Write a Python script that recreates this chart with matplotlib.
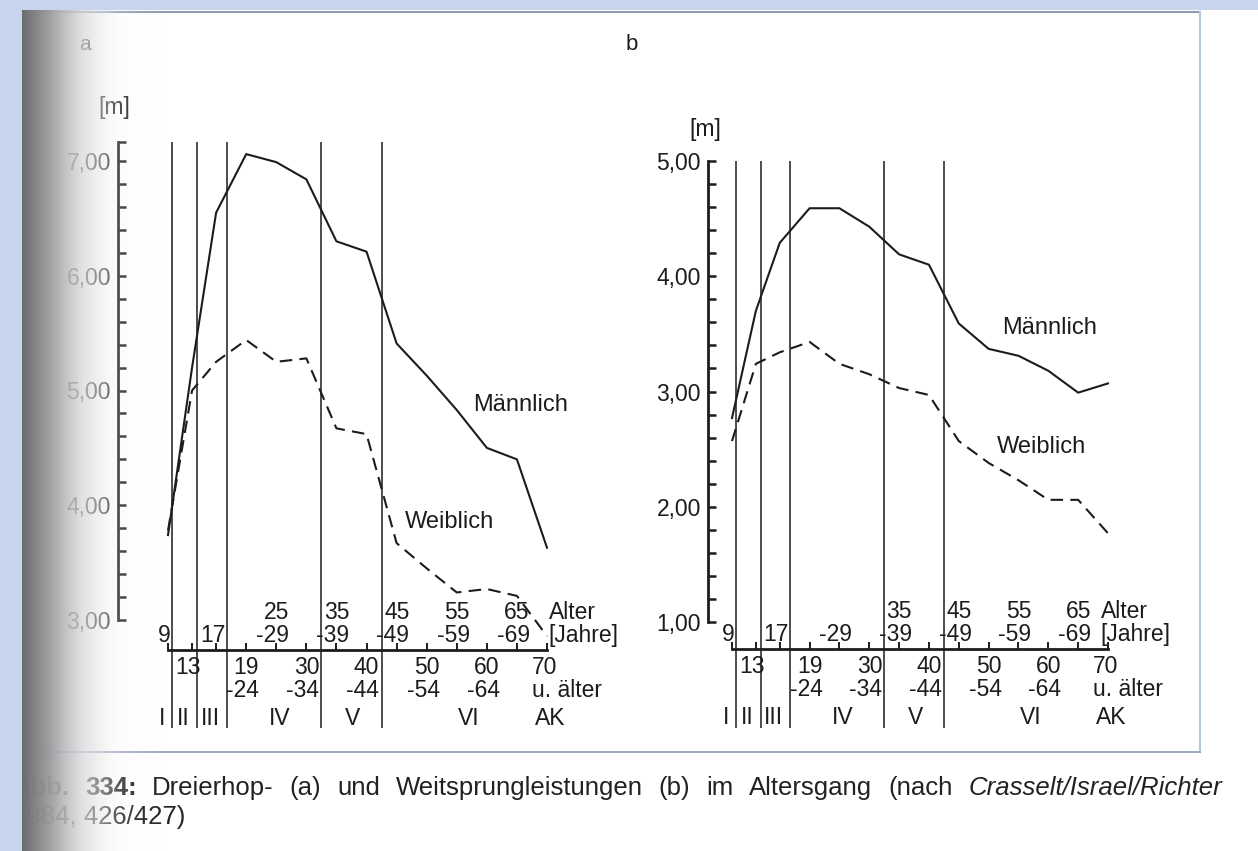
import numpy as np
import matplotlib
matplotlib.use("Agg")
import matplotlib.pyplot as plt
from matplotlib.ticker import FixedLocator

plt.rcParams['font.family'] = ['Liberation Sans', 'DejaVu Sans']

# age groups, drawn at their mid age ("70 u. älter" sits at 72)
ages = [9, 13, 17, 22, 27, 32, 37, 42, 47, 52, 57, 62, 67, 72]

# (a) Dreierhop [m]
dreier_m = [3.74, 5.20, 6.55, 7.06, 6.99, 6.84, 6.30, 6.21, 5.41, 5.13, 4.83, 4.50, 4.40, 3.63]
dreier_w = [3.78, 5.00, 5.25, 5.44, 5.25, 5.28, 4.67, 4.62, 3.67, 3.45, 3.24, 3.27, 3.21, 2.86]
# (b) Weitsprung [m]
weit_m = [2.77, 3.70, 4.29, 4.59, 4.59, 4.43, 4.19, 4.10, 3.59, 3.37, 3.31, 3.18, 2.99, 3.07]
weit_w = [2.57, 3.24, 3.34, 3.43, 3.24, 3.15, 3.03, 2.97, 2.57, 2.38, 2.23, 2.06, 2.06, 1.77]

top_ages = [9, 17, 27, 37, 47, 57, 67]
top_labels_a = ['9', '17', '25\n-29', '35\n-39', '45\n-49', '55\n-59', '65\n-69']
top_labels_b = ['9', '17', '-29', '35\n-39', '45\n-49', '55\n-59', '65\n-69']
bottom_ages = [13, 22, 32, 42, 52, 62]
bottom_labels = ['13', '19\n-24', '30\n-34', '40\n-44', '50\n-54', '60\n-64']

classes = ['I', 'II', 'III', 'IV', 'V', 'VI', 'AK']
class_ages = [8, 11.5, 16, 27.5, 39.7, 59, 72.5]
class_bounds = [9.6, 13.9, 18.8, 34.4, 44.5]

caption_words = [('Abb.', 'bold'), ('334:', 'bold'), ('Dreierhop-', ''), ('(a)', ''),
                 ('und', ''), ('Weitsprungleistungen', ''), ('(b)', ''), ('im', ''),
                 ('Altersgang', ''), ('(nach', ''), ('Crasselt/Israel/Richter', 'italic')]
caption_line2 = '1984, 426/427)'

W, H = 1258, 851
INK = '#1c1c1c'
FS = 16.5
fig = plt.figure(figsize=(W / 100, H / 100), dpi=100, facecolor='white')

# page background
bg = fig.add_axes([0, 0, 1, 1], zorder=-10)
bg.set_xlim(0, W)
bg.set_ylim(H, 0)
bg.axis('off')
bg.plot([40, 1200], [12, 12], color='#8d9cb4', lw=1.5)
bg.plot([1200, 1200], [12, 752], color='#b4c6e2', lw=1.5)
bg.plot([40, 1200], [752, 752], color='#8d9cb4', lw=1.2)


def add_panel(box, x_px, y_px, y_lo, y_hi, yaxis_px, xaxis_px, top_px):
    left, top, right, bottom = box
    ax = fig.add_axes([left / W, 1 - bottom / H, (right - left) / W, (bottom - top) / H])
    sx = (x_px[1] - x_px[0]) / (72 - 9)
    sy = (y_px[1] - y_px[0]) / (y_hi - y_lo)
    ax.set_xlim(9 + (left - x_px[0]) / sx, 9 + (right - x_px[0]) / sx)
    ax.set_ylim(y_hi - (bottom - y_px[0]) / sy, y_hi + (y_px[0] - top) / sy)
    ax.patch.set_alpha(0)
    px2x = lambda p: 9 + (p - x_px[0]) / sx
    px2y = lambda p: y_hi - (p - y_px[0]) / sy

    for s in ['top', 'right']:
        ax.spines[s].set_visible(False)
    y_top = px2y(top_px)
    y_axis = px2y(xaxis_px)
    ax.spines['left'].set_position(('data', px2x(yaxis_px)))
    ax.spines['left'].set_bounds(y_lo, y_top)
    ax.spines['bottom'].set_position(('data', y_axis))
    ax.spines['bottom'].set_bounds(9, 72)
    for s in ['left', 'bottom']:
        ax.spines[s].set_linewidth(2.0)
        ax.spines[s].set_color(INK)

    majors = np.arange(y_lo, y_hi + 0.01, 1.0)
    ax.yaxis.set_major_locator(FixedLocator(majors))
    ax.set_yticklabels([f'{v:.2f}'.replace('.', ',') for v in majors])
    ax.yaxis.set_minor_locator(FixedLocator(list(np.arange(y_lo, y_hi, 0.2)) + [y_top]))
    ax.tick_params(axis='y', which='both', direction='in', length=6, width=1.8,
                   labelsize=FS, pad=5, colors=INK)
    ax.set_xticks(ages)
    ax.set_xticklabels([])
    ax.tick_params(axis='x', direction='in', length=5, width=1.4, colors=INK)

    ax.vlines(class_bounds, px2y(728), y_top, colors=INK, lw=1.1, clip_on=False)
    return ax, y_axis


def decorate(ax, y_axis, top_labels, alter_x):
    kw = dict(textcoords='offset points', fontsize=FS, color=INK,
              linespacing=1.0, annotation_clip=False)
    for a, lbl in zip(top_ages, top_labels):
        ax.annotate(lbl, (a, y_axis), xytext=(-2.6, 2), ha='center', va='bottom',
                    multialignment='right', **kw)
    for a, lbl in zip(bottom_ages, bottom_labels):
        ax.annotate(lbl, (a, y_axis), xytext=(-2.6, -4), ha='center', va='top',
                    multialignment='right', **kw)
    ax.annotate('70\nu. älter', (69.5, y_axis), xytext=(0, -4), ha='left', va='top',
                multialignment='left', **kw)
    ax.annotate('Alter\n[Jahre]', (alter_x, y_axis), xytext=(0, 2), ha='left', va='bottom',
                multialignment='left', **kw)
    for a, lbl in zip(class_ages, classes):
        ax.annotate(lbl, (a, y_axis), xytext=(0, -49), ha='center', va='center', **kw)


# (a) Dreierhop
ax_a, ya = add_panel((40, 80, 620, 770), (168, 547), (161, 620), 3, 7, 118, 650, 142)
ax_a.plot(ages, dreier_m, color=INK, lw=1.5)
ax_a.plot(ages, dreier_w, color=INK, lw=1.5, dashes=(6, 3.5))
decorate(ax_a, ya, top_labels_a, 72.3)
ax_a.text(0.0, 7.47, '[m]', fontsize=FS, color=INK, ha='center', va='center')
ax_a.text(59.7, 4.87, 'Männlich', fontsize=17, color=INK, ha='left', va='center')
ax_a.text(48.4, 3.85, 'Weiblich', fontsize=17, color=INK, ha='left', va='center')

# (b) Weitsprung
ax_b, yb = add_panel((630, 80, 1195, 770), (732, 1108), (161, 622), 1, 5, 708, 649, 161)
ax_b.plot(ages, weit_m, color=INK, lw=1.5)
ax_b.plot(ages, weit_w, color=INK, lw=1.5, dashes=(6, 3.5))
decorate(ax_b, yb, top_labels_b, 70.8)
ax_b.text(4.5, 5.27, '[m]', fontsize=FS, color=INK, ha='center', va='center')
ax_b.text(54.2, 3.55, 'Männlich', fontsize=17, color=INK, ha='left', va='center')
ax_b.text(53.4, 2.52, 'Weiblich', fontsize=17, color=INK, ha='left', va='center')

bg.text(85, 45, 'a', fontsize=15, color=INK, ha='center', va='center')
bg.text(632, 45, 'b', fontsize=16, color=INK, ha='center', va='center')

# caption: first line justified between x0 and x1
renderer = fig.canvas.get_renderer()
cap = 18.5
x0, x1 = 12, 1222
base1, base2 = 795, 824
words = []
for w, style in caption_words:
    kw = {'fontweight': 'bold'} if style == 'bold' else ({'fontstyle': 'italic'} if style else {})
    t = bg.text(0, base1, w, fontsize=cap, color='#222222', va='baseline', ha='left', **kw)
    words.append((t, t.get_window_extent(renderer).width))
gap = (x1 - x0 - sum(wd for _, wd in words)) / (len(words) - 1)
x = x0
for t, wd in words:
    t.set_x(x)
    x += wd + gap
bg.text(x0, base2, caption_line2, fontsize=cap, color='#222222', va='baseline', ha='left')

# shadow of the book gutter on the left
ov = fig.add_axes([0, 0, 1, 1], zorder=10)
ov.set_xlim(0, W)
ov.set_ylim(H, 0)
ov.axis('off')
ov.patch.set_alpha(0)
xs = np.linspace(22, 170, 300)
gray = np.interp(xs, [22, 50, 80, 110, 140, 170], [0.42, 0.62, 0.84, 0.94, 0.99, 1.0])
alpha = np.interp(xs, [22, 50, 80, 100, 118, 140, 170], [1.0, 0.97, 0.8, 0.55, 0.25, 0.08, 0.0])
shade = np.zeros((1, len(xs), 4))
shade[0, :, 0] = gray
shade[0, :, 1] = gray
shade[0, :, 2] = gray + 0.01
shade[0, :, 3] = alpha
ov.imshow(shade, extent=(22, 170, H, 10), aspect='auto', interpolation='bilinear')
ov.add_patch(plt.Rectangle((0, 0), W, 10, color='#c6d5ec', lw=0))
ov.add_patch(plt.Rectangle((0, 0), 22, H, color='#c6d5ec', lw=0))
ov.set_xlim(0, W)
ov.set_ylim(H, 0)

fig.savefig('out.png', dpi=100, facecolor='white')
